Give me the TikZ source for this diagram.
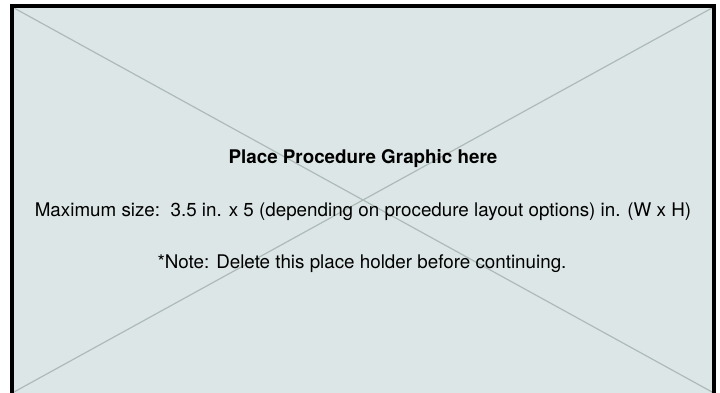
\documentclass[tikz,border=0pt]{standalone}
\usepackage{fontspec}
\setmainfont{TeX Gyre Heros}
\definecolor{cPanel}{RGB}{221,230,230}
\definecolor{cCross}{RGB}{172,186,184}

\begin{document}
\begin{tikzpicture}[x=1pt,y=1pt,
    note/.style={anchor=base,inner sep=0pt,font=\fontsize{18.8}{22}\selectfont},
    head/.style={note,font=\fontsize{18.8}{22}\selectfont\bfseries}]
        \useasboundingbox (0,0) rectangle (720,393);
        \clip (0,0) rectangle (720,393);
        % panel and cross
        \fill[cPanel] (12,-6) rectangle (714,387);
        \coordinate (tl) at (14,385);
        \coordinate (tr) at (712,385);
        \coordinate (bl) at (14,1);
        \coordinate (br) at (712,1);
        \draw[cCross,line width=1.2pt] (tl) -- (br);
        \draw[cCross,line width=1.2pt] (tr) -- (bl);
        \draw[line width=4pt] (12,-6) -- (12,387) -- (714,387) -- (714,-6);
        
        % texts
        \node[head] (title) at (363,229) {Place Procedure Graphic here};
        \node[note] (size) at (363,176) {Maximum size:\ \ 3.5 in. x 5 (depending on procedure layout options) in. (W x H)};
        \node[note] (remark) at (362,124) {*Note: Delete this place holder before continuing.};
    \end{tikzpicture}
\end{document}
